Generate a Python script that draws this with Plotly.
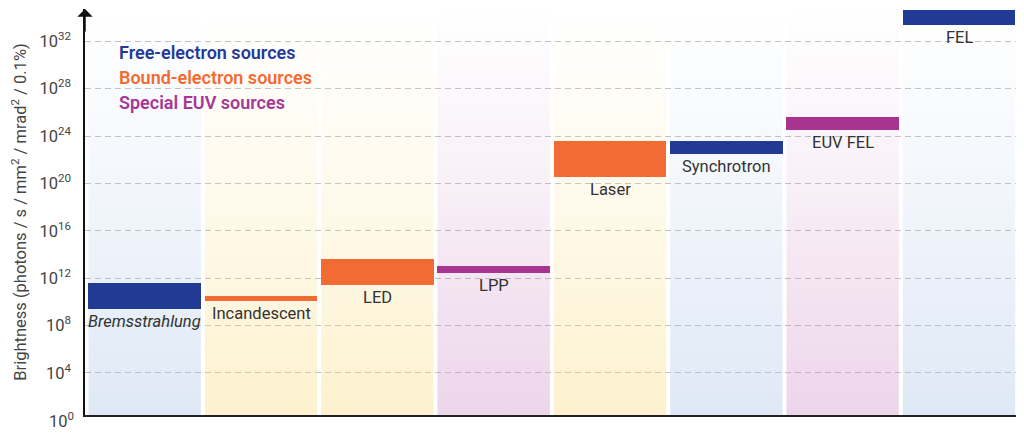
import plotly.graph_objects as go
import numpy as np

# light sources, brightness range as powers of ten
sources = ['Bremsstrahlung', 'Incandescent', 'LED', 'LPP', 'Laser',
           'Synchrotron', 'EUV FEL', 'FEL']
kind = ['free', 'bound', 'bound', 'special', 'bound', 'free', 'special', 'free']
log_low = [9.4, 10.1, 11.4, 12.4, 20.5, 22.5, 24.5, 33.4]
log_high = [11.6, 10.5, 13.6, 13.0, 23.6, 23.6, 25.6, 34.6]

tick_exp = [4, 8, 12, 16, 20, 24, 28, 32]

kind_names = {'free': 'Free-electron sources',
              'bound': 'Bound-electron sources',
              'special': 'Special EUV sources'}
bar_col = {'free': '#213a94', 'bound': '#f26b35', 'special': '#a8348f'}
text_col = {'free': '#25399a', 'bound': '#f56a30', 'special': '#a63797'}
bg_rgb = {'free': '165,192,230', 'bound': '250,218,120', 'special': '205,140,198'}

y_range = [0.45, 34.72]
x_range = [-0.513, 7.49]
half_w = 0.483
font = 'Roboto'

fig = go.Figure()

# column backgrounds, faded towards the top
for i, k in enumerate(kind):
    y0, y1 = 10.0**y_range[0], 10.0**y_range[1]
    fig.add_trace(go.Scatter(
        x=[i-half_w, i+half_w, i+half_w, i-half_w, i-half_w],
        y=[y0, y0, y1, y1, y0],
        mode='lines', line={'width': 0},
        fill='toself',
        fillgradient={'type': 'vertical',
                      'colorscale': [[0, 'rgba(%s,0.36)' % bg_rgb[k]],
                                     [0.6, 'rgba(%s,0.12)' % bg_rgb[k]],
                                     [1, 'rgba(%s,0.0)' % bg_rgb[k]]]},
        hoverinfo='skip', showlegend=False))

# bars on an overlaid pair of axes so they sit above the backgrounds
lo = np.array(log_low)
hi = np.array(log_high)
fig.add_trace(go.Bar(
    x=list(range(len(sources))),
    y=10.0**hi - 10.0**lo, base=10.0**lo,
    width=2*half_w,
    marker={'color': [bar_col[k] for k in kind], 'line': {'width': 0}},
    xaxis='x2', yaxis='y2',
    hoverinfo='skip', showlegend=False))

# labels under bars
for i, name in enumerate(sources):
    fig.add_annotation(x=i, y=log_low[i], text=name, showarrow=False,
                       yanchor='top', yshift=-1,
                       font={'family': font, 'size': 16.5, 'color': '#333',
                             'style': 'italic' if name == 'Bremsstrahlung' else 'normal'})

# category key
for j, k in enumerate(['free', 'bound', 'special']):
    fig.add_annotation(xref='paper', yref='paper', x=0.034, y=0.892-0.0615*j,
                       text=kind_names[k], showarrow=False,
                       xanchor='left', yanchor='middle',
                       font={'family': font, 'size': 18, 'color': text_col[k],
                             'weight': 600})

# 10^0 sits just under the axis start
fig.add_annotation(xref='paper', yref='paper', x=0,
                   y=(0 - y_range[0]) / (y_range[1] - y_range[0]),
                   text='10<sup>0</sup>', showarrow=False,
                   xanchor='right', xshift=-9, yanchor='middle',
                   font={'family': font, 'size': 16.5, 'color': '#444'})

# arrow head on the y axis
fig.add_annotation(xref='paper', yref='paper', x=0, y=1, ax=0, ay=24,
                   text='', showarrow=True, arrowhead=1, arrowsize=1.7,
                   arrowwidth=1.5, arrowcolor='#111')

fig.update_layout(
    xaxis={'range': x_range, 'showticklabels': False, 'showgrid': False,
           'zeroline': False, 'showline': True, 'linecolor': '#222',
           'linewidth': 1.5, 'automargin': False},
    xaxis2={'range': x_range, 'overlaying': 'x', 'visible': False},
    yaxis={'type': 'log', 'range': y_range, 'automargin': False,
           'tickmode': 'array', 'tickvals': [10.0**e for e in tick_exp],
           'ticktext': ['10<sup>%d</sup>' % e for e in tick_exp],
           'tickfont': {'family': font, 'size': 16.5, 'color': '#444'},
           'ticks': '', 'ticklabelstandoff': 9,
           'showgrid': True, 'gridcolor': '#c2c2c2', 'gridwidth': 1,
           'griddash': '6px,4px',
           'zeroline': False, 'showline': True, 'linecolor': '#111', 'linewidth': 1.5,
           'title': {'text': 'Brightness (photons / s / mm<sup>2</sup> / mrad<sup>2</sup> / 0.1%)',
                     'font': {'family': font, 'size': 16.5, 'color': '#444'},
                     'standoff': 12}},
    yaxis2={'type': 'log', 'range': y_range, 'overlaying': 'y', 'visible': False},
)

# page body adds an 8px offset, so the figure is sized to fit the window
fig.update_layout(width=1016, height=429,
                  margin={'l': 77, 'r': 8, 't': 1, 'b': 22},
                  paper_bgcolor='white', plot_bgcolor='white',
                  bargap=0, showlegend=False)

fig.write_html('out.html')
